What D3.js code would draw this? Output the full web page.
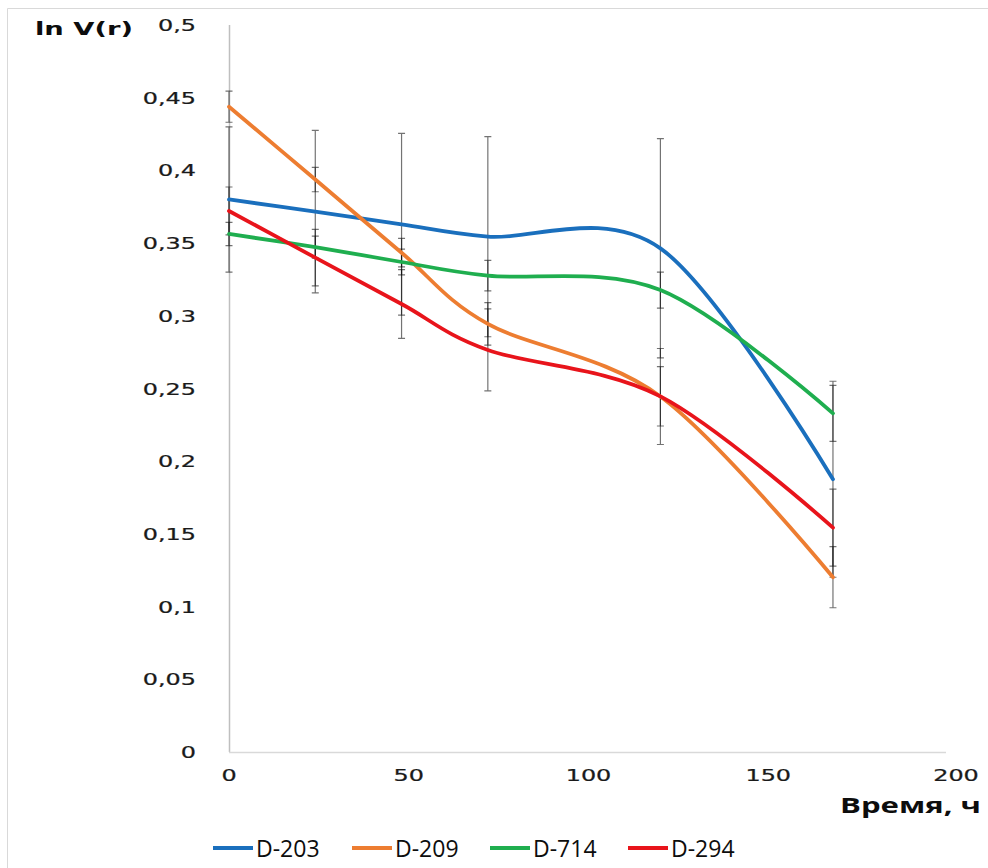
<!DOCTYPE html>
<html>
<head>
<meta charset="utf-8">
<script src="https://cdn.jsdelivr.net/npm/d3@7"></script>
<style>
  html, body { margin: 0; padding: 0; background: #fff; }
  svg { display: block; }
</style>
</head>
<body>
<svg id="chart" width="988" height="868"></svg>
<script>
// Sampling times, hours
const times = [0, 24, 48, 72, 120, 168];

// ln V(r) per strain
const seriesNames = ["D-203", "D-209", "D-714", "D-294"];
const valuesD203 = [0.380, 0.3716, 0.3629, 0.3544, 0.3464, 0.1876];
const valuesD209 = [0.4438, 0.3937, 0.3434, 0.2944, 0.2445, 0.1202];
const valuesD714 = [0.3563, 0.3472, 0.3370, 0.3276, 0.3177, 0.2329];
const valuesD294 = [0.3721, 0.3400, 0.3081, 0.2765, 0.2446, 0.1543];

// Error margins (±) per strain
const errD203 = [0.050, 0.0559, 0.0625, 0.0688, 0.0754, 0.0674];
const errD209 = [0.0107, 0.0084, 0.0098, 0.0146, 0.0330, 0.0210];
const errD714 = [0.0080, 0.0076, 0.0088, 0.0105, 0.0124, 0.0193];
const errD294 = [0.0165, 0.0194, 0.0236, 0.0282, 0.0204, 0.0265];

// Axis ticks
const yTicks = [0, 0.05, 0.1, 0.15, 0.2, 0.25, 0.3, 0.35, 0.4, 0.45, 0.5];
const xTicks = [0, 50, 100, 150, 200];

const colors = ["#1a6fbd", "#ed7d31", "#1fae4f", "#e8141b"];
const allValues = [valuesD203, valuesD209, valuesD714, valuesD294];
const allErrors = [errD203, errD209, errD714, errD294];

const series = seriesNames.map((name, i) => ({
  name,
  color: colors[i],
  points: times.map((t, j) => ({ t, v: allValues[i][j], e: allErrors[i][j] }))
}));

const svg = d3.select("#chart");

const x = d3.scaleLinear().domain([0, 200]).range([229, 948]);
const y = d3.scaleLinear().domain([0, 0.5]).range([752, 25]);

const fmtComma = v => d3.format("")(+v.toFixed(2)).replace(".", ",");

// Outer frame (top and left edges visible)
svg.append("path")
  .attr("d", "M7.5,868 V8.5 H988")
  .attr("fill", "none")
  .attr("stroke", "#d9d9d9")
  .attr("stroke-width", 1);

// Axes lines
svg.append("line")
  .attr("x1", x(0) + 0.5).attr("x2", x(0) + 0.5)
  .attr("y1", y(0.5)).attr("y2", y(0))
  .attr("stroke", "#bfbfbf").attr("stroke-width", 1.5);
svg.append("line")
  .attr("x1", x(0)).attr("x2", x(200) - 2)
  .attr("y1", y(0) + 0.5).attr("y2", y(0) + 0.5)
  .attr("stroke", "#d9d9d9").attr("stroke-width", 1.5);

// Y tick labels (wide geometric face)
const tickFont = "DejaVu Sans, Verdana, sans-serif";
svg.append("g").selectAll("text")
  .data(yTicks)
  .join("text")
  .attr("transform", d => `translate(196,${y(d) + 6}) scale(1.45,1)`)
  .attr("text-anchor", "end")
  .attr("font-family", tickFont)
  .attr("font-size", 16.5)
  .attr("fill", "#1a1a1a")
  .attr("stroke", "#1a1a1a")
  .attr("stroke-width", 0.25)
  .text(d => fmtComma(d));

// X tick labels
svg.append("g").selectAll("text")
  .data(xTicks)
  .join("text")
  .attr("transform", d => `translate(${x(d) + (d === 200 ? 8 : 0)},781) scale(1.45,1)`)
  .attr("text-anchor", "middle")
  .attr("font-family", tickFont)
  .attr("font-size", 16.5)
  .attr("fill", "#1a1a1a")
  .attr("stroke", "#1a1a1a")
  .attr("stroke-width", 0.25)
  .text(d => d);

// Axis titles
svg.append("text")
  .attr("x", 35).attr("y", 35)
  .attr("font-family", tickFont)
  .attr("font-weight", "bold")
  .attr("font-size", 18)
  .attr("textLength", 98)
  .attr("lengthAdjust", "spacingAndGlyphs")
  .attr("fill", "#0d0d0d")
  .text("ln V(r)");

svg.append("text")
  .attr("x", 840).attr("y", 813)
  .attr("font-family", "Open Sans, sans-serif")
  .attr("font-weight", "bold")
  .attr("font-size", 21)
  .attr("textLength", 141)
  .attr("lengthAdjust", "spacingAndGlyphs")
  .attr("fill", "#0d0d0d")
  .text("Время, ч");

// Error bars
const capHalf = 3.5;
const errG = svg.append("g")
  .attr("stroke", "#000")
  .attr("stroke-opacity", 0.55)
  .attr("stroke-width", 1.2)
  .attr("fill", "none");
series.forEach(s => {
  errG.append("g").selectAll("path")
    .data(s.points)
    .join("path")
    .attr("d", p => {
      const cx = x(p.t);
      const y1 = y(p.v + p.e), y2 = y(p.v - p.e);
      return `M${cx},${y1}V${y2}` +
             `M${cx - capHalf},${y1}H${cx + capHalf}` +
             `M${cx - capHalf},${y2}H${cx + capHalf}`;
    });
});

// Smoothed series lines
const line = d3.line()
  .x(p => x(p.t))
  .y(p => y(p.v))
  .curve(d3.curveCardinal.tension(0));

svg.append("g").selectAll("path")
  .data(series)
  .join("path")
  .attr("d", s => line(s.points))
  .attr("fill", "none")
  .attr("stroke", s => s.color)
  .attr("stroke-width", 3.8)
  .attr("stroke-linecap", "round")
  .attr("stroke-linejoin", "round");

// Legend
const legendX = [213, 352, 490, 628];
const legend = svg.append("g").selectAll("g")
  .data(series)
  .join("g")
  .attr("transform", (s, i) => `translate(${legendX[i]},848)`);
legend.append("line")
  .attr("x1", 0).attr("x2", 40)
  .attr("y1", 0).attr("y2", 0)
  .attr("stroke", s => s.color)
  .attr("stroke-width", 3.8);
legend.append("text")
  .attr("x", 43).attr("y", 9)
  .attr("font-family", "Open Sans, sans-serif")
  .attr("font-size", 23)
  .attr("fill", "#0d0d0d")
  .text(s => s.name);
</script>
</body>
</html>
